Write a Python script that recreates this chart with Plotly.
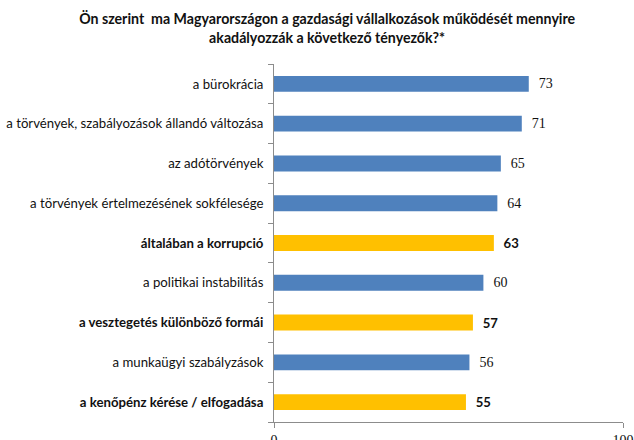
import plotly.graph_objects as go

title = ("Ön szerint  ma Magyarországon a gazdasági vállalkozások működését mennyire<br>"
         "akadályozzák a következő tényezők?*")

categories = [
    "a bürokrácia",
    "a törvények, szabályozások állandó változása",
    "az adótörvények",
    "a törvények értelmezésének sokfélesége",
    "általában a korrupció",
    "a politikai instabilitás",
    "a vesztegetés különböző formái",
    "a munkaügyi szabályzások",
    "a kenőpénz kérése / elfogadása",
]
values = [73, 71, 65, 64, 63, 60, 57, 56, 55]
highlight = [False, False, False, False, True, False, True, False, True]

BLUE = "#4F81BD"
ORANGE = "#FFC000"

colors = [ORANGE if h else BLUE for h in highlight]
labels = [f"  <b>{v}</b>" if h else f"  {v}" for v, h in zip(values, highlight)]
label_fonts = ["Lato" if h else "Liberation Serif" for h in highlight]
ticktext = [f"<b>{c}</b>" if h else c for c, h in zip(categories, highlight)]

fig = go.Figure(go.Bar(
    x=values,
    y=categories,
    orientation="h",
    marker=dict(color=colors, line=dict(width=0)),
    text=labels,
    textposition="outside",
    textfont=dict(family=label_fonts, size=14, color="#111111"),
    cliponaxis=False,
    width=0.4,
))

fig.update_layout(
    title=dict(text=f"<b>{title}</b>", x=0.516, xanchor="center", y=0.945, yanchor="top",
               font=dict(family="Lato", size=14.2, color="#111111")),
    width=634, height=440,
    margin=dict(l=274, r=11, t=64, b=18),
    plot_bgcolor="white", paper_bgcolor="white",
    font=dict(family="Lato", size=13.2, color="#111111"),
    showlegend=False,
)
fig.update_yaxes(
    autorange="reversed", automargin=False,
    tickmode="array", tickvals=categories, ticktext=ticktext,
    tickson="boundaries", ticks="outside", ticklen=5, tickcolor="#8c8c8c",
    showline=True, linecolor="#8c8c8c", linewidth=1,
    showgrid=False, ticklabelstandoff=7,
)
fig.update_xaxes(
    range=[0, 100], tickvals=[0, 100], ticks="outside", ticklen=5, tickcolor="#8c8c8c",
    showline=True, linecolor="#8c8c8c", linewidth=1, showgrid=False, zeroline=False,
    automargin=False,
    tickfont=dict(family="Liberation Serif", size=14),
)

# drop the default body margin so the figure sits at the page corner
fig.write_html("out.html", config={"displayModeBar": False},
               post_script="document.body.style.margin='0';")
